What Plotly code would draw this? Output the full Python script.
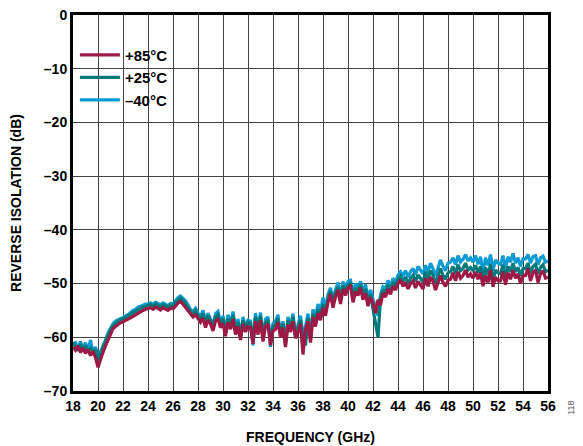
import plotly.graph_objects as go

# frequency grid step (GHz); traces sampled from 18 GHz
F_START = 18.0
F_STEP = 0.2

iso_85c = [
    -61.8,
    -62.4, -61.6, -62.8, -62.0, -63.0, -62.3, -63.4, -62.6, -63.8, -65.6,
    -64.0, -62.8, -61.6, -60.4, -59.2, -58.4, -58.0, -57.6, -57.3, -57.1,
    -56.9, -56.6, -56.4, -56.1, -55.8, -55.5, -55.2, -55.0, -54.8, -54.7,
    -54.5, -54.8, -54.4, -54.6, -54.9, -54.5, -54.8, -55.0, -54.6, -54.7,
    -54.2, -53.6, -53.3, -53.8, -54.3, -55.0, -55.6, -56.2, -55.8, -56.6,
    -57.2, -56.4, -58.2, -56.8, -57.5, -58.8, -57.0, -56.5, -58.2, -57.4,
    -59.8, -57.2, -58.5, -56.6, -59.5, -58.0, -60.5, -57.5, -59.0, -58.0,
    -58.2, -61.2, -57.0, -59.5, -56.8, -60.8, -58.0, -57.5, -61.5, -58.8,
    -58.5, -57.2, -60.0, -58.2, -61.8, -57.6, -59.0, -57.0, -60.2, -59.0,
    -57.5, -63.2, -58.5, -57.0, -61.0, -56.2, -58.0, -55.5, -56.8, -54.5,
    -56.0, -53.5, -52.0, -54.5, -52.5, -51.2, -53.8, -51.0, -52.2, -50.8,
    -50.5, -53.5, -51.5, -52.2, -50.8, -53.0, -51.8, -54.2, -52.5, -53.6,
    -55.5, -53.0, -54.0, -51.8, -52.5, -51.0, -52.0, -50.5, -51.2, -50.0,
    -49.3, -50.5, -49.8, -51.0, -50.0, -49.5, -50.8, -49.6, -50.2, -51.0,
    -49.0, -50.5, -48.8, -49.6, -51.2, -50.0, -48.5, -49.8, -50.5, -49.4,
    -49.2, -48.0, -49.5, -47.8, -49.0, -48.5, -47.5, -48.8, -48.2, -49.0,
    -47.8, -49.2, -48.0, -50.5, -48.5, -49.8, -47.5, -50.6, -48.8, -49.5,
    -49.5, -47.8, -50.2, -48.0, -49.2, -47.5, -49.0, -48.2, -50.0, -48.6,
    -48.5, -47.2, -49.5, -48.0, -47.5, -49.8, -48.2, -47.6, -49.0, -48.8,
]

iso_25c = [
    -61.0,
    -61.8, -62.5, -61.2, -62.6, -61.5, -62.8, -61.9, -63.0, -62.2, -64.2,
    -63.0, -61.8, -60.8, -59.6, -58.6, -57.8, -57.3, -57.0, -56.7, -56.6,
    -56.3, -56.0, -55.8, -55.4, -55.1, -54.8, -54.6, -54.4, -54.2, -54.1,
    -53.9, -54.2, -53.8, -54.0, -54.3, -53.9, -54.1, -54.4, -54.0, -54.1,
    -53.5, -53.0, -52.7, -53.2, -53.6, -54.4, -55.2, -55.6, -55.0, -56.0,
    -56.5, -55.6, -57.5, -56.0, -56.8, -58.0, -56.2, -55.8, -57.6, -56.5,
    -59.0, -56.5, -58.0, -55.8, -58.8, -57.2, -59.8, -56.8, -58.5, -57.2,
    -57.4, -60.5, -56.2, -58.8, -56.0, -60.0, -57.2, -56.8, -60.6, -58.0,
    -57.6, -56.5, -59.4, -57.4, -61.0, -56.8, -58.4, -56.2, -59.6, -58.2,
    -56.8, -60.5, -61.5, -56.4, -60.2, -55.6, -57.0, -54.8, -56.0, -53.8,
    -55.2, -52.8, -51.4, -53.6, -51.8, -50.6, -53.0, -50.4, -51.5, -50.2,
    -50.0, -52.6, -50.8, -51.5, -50.2, -52.2, -51.0, -53.4, -52.0, -54.8,
    -57.5, -60.0, -52.8, -51.2, -51.8, -50.2, -51.2, -49.8, -50.4, -49.2,
    -48.6, -49.6, -48.8, -50.0, -49.0, -48.5, -49.6, -48.4, -49.0, -49.8,
    -47.8, -49.2, -47.6, -48.4, -50.0, -48.6, -47.2, -48.5, -49.2, -48.0,
    -47.8, -46.8, -48.2, -46.5, -47.6, -47.2, -46.2, -47.5, -47.0, -47.6,
    -46.6, -48.0, -46.8, -49.8, -47.0, -48.4, -46.4, -49.5, -47.5, -48.0,
    -48.2, -46.5, -49.0, -46.8, -47.8, -46.2, -47.8, -47.0, -48.6, -47.2,
    -47.2, -46.2, -48.0, -46.8, -46.4, -48.2, -47.0, -46.5, -47.8, -47.5,
]

iso_m40c = [
    -61.2,
    -61.0, -62.0, -60.8, -62.2, -61.0, -62.5, -60.5, -62.8, -61.8, -63.8,
    -62.8, -61.5, -60.5, -59.2, -58.2, -57.5, -57.0, -56.8, -56.5, -56.3,
    -56.0, -55.8, -55.4, -55.0, -54.8, -54.4, -54.2, -54.0, -53.8, -53.8,
    -53.6, -53.9, -53.5, -53.7, -54.0, -53.6, -53.8, -54.1, -53.7, -53.8,
    -53.2, -52.6, -52.3, -52.8, -53.2, -54.0, -54.8, -55.2, -54.6, -55.5,
    -56.2, -55.0, -57.0, -55.5, -56.5, -57.8, -55.6, -55.2, -57.4, -56.0,
    -58.8, -55.8, -57.6, -55.2, -58.5, -56.6, -60.0, -56.2, -58.2, -56.8,
    -57.0, -61.5, -55.5, -58.6, -55.4, -60.2, -56.6, -56.2, -61.8, -57.4,
    -57.0, -55.8, -59.8, -57.0, -61.5, -56.2, -58.2, -55.6, -60.0, -57.6,
    -56.0, -59.5, -58.0, -55.6, -59.8, -54.8, -56.4, -53.8, -55.2, -52.6,
    -54.6, -52.0, -50.8, -53.0, -51.2, -49.8, -52.4, -49.6, -51.0, -49.6,
    -49.4, -52.0, -50.0, -50.8, -49.6, -51.5, -50.2, -52.6, -51.2, -53.0,
    -54.5, -56.0, -52.0, -50.6, -51.0, -49.4, -50.6, -49.0, -49.8, -48.4,
    -47.8, -48.6, -47.6, -48.8, -47.8, -47.2, -48.4, -46.8, -47.6, -48.2,
    -46.6, -48.0, -46.2, -47.2, -48.6, -47.0, -45.6, -46.8, -47.6, -46.2,
    -46.0, -45.2, -46.5, -44.8, -46.0, -45.5, -44.6, -45.8, -45.2, -46.0,
    -44.8, -46.4, -45.0, -48.0, -45.2, -46.6, -44.6, -47.6, -45.6, -46.2,
    -46.4, -44.8, -47.2, -45.0, -46.0, -44.4, -46.2, -45.2, -46.8, -45.4,
    -45.4, -44.6, -46.2, -45.0, -44.8, -46.5, -45.2, -44.9, -46.0, -45.8,
]

x_ticks = list(range(18, 57, 2))
y_ticks = [0, -10, -20, -30, -40, -50, -60, -70]
y_tick_text = ['0', '–10', '–20', '–30', '–40', '–50', '–60', '–70']

series = [
    ('–40°C', iso_m40c, '#0C9BD2'),
    ('+25°C', iso_25c, '#00797A'),
    ('+85°C', iso_85c, '#9C1A45'),
]


def freqs(n):
    return [round(F_START + F_STEP * i, 3) for i in range(n)]


fig = go.Figure()
for name, vals, color in series:
    fig.add_trace(go.Scatter(
        x=freqs(len(vals)), y=vals, mode='lines', name=name,
        line=dict(color=color, width=3.2),
    ))

font = 'Liberation Sans, Arial, sans-serif'
# page body adds an 8px offset, margins compensate for it
fig.update_layout(
    width=583, height=446,
    margin=dict(l=65, r=43, t=7, b=63, autoexpand=False),
    paper_bgcolor='white', plot_bgcolor='white',
    font=dict(family=font, color='black'),
    showlegend=True,
    legend=dict(
        x=0.004, y=0.937, xanchor='left', yanchor='top',
        traceorder='reversed', bgcolor='rgba(0,0,0,0)',
        font=dict(size=15, family=font, weight='bold'),
        tracegroupgap=0, itemwidth=40,
    ),
    xaxis=dict(
        range=[18, 56], tickvals=x_ticks, showgrid=True,
        gridcolor='#444', gridwidth=1, automargin=False,
        showline=True, linecolor='black', linewidth=3, mirror=True,
        ticks='', tickfont=dict(size=14, weight='bold'),
        ticklabeloverflow='allow',
        title=dict(text='FREQUENCY (GHz)', font=dict(size=14, weight='bold'), standoff=20),
        zeroline=False,
    ),
    yaxis=dict(
        range=[-70, 0], tickvals=y_ticks, ticktext=y_tick_text, showgrid=True,
        gridcolor='#444', gridwidth=1, automargin=False,
        showline=True, linecolor='black', linewidth=3, mirror=True,
        ticks='', tickfont=dict(size=14, weight='bold'),
        ticklabeloverflow='allow',
        title=dict(text='REVERSE ISOLATION (dB)', font=dict(size=14, weight='bold'), standoff=20),
        zeroline=False,
    ),
)

fig.add_annotation(
    text='118', xref='paper', yref='paper', x=1.063, y=-0.069,
    showarrow=False, textangle=-90, font=dict(size=9, color='#555'),
)

fig.write_html('out.html')
